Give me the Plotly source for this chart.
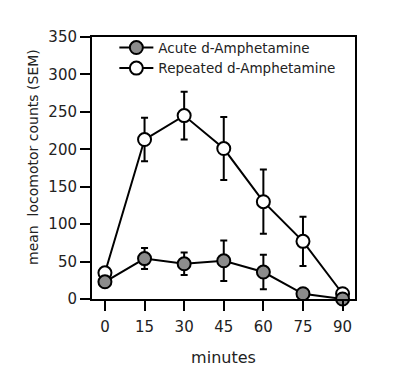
import plotly.graph_objects as go

minutes = [0, 15, 30, 45, 60, 75, 90]
acute_mean = [23, 54, 47, 51, 36, 7, 0]
acute_sem = [0, 14, 15, 27, 23, 0, 0]
repeated_mean = [35, 213, 245, 201, 130, 77, 7]
repeated_sem = [0, 29, 32, 42, 43, 33, 0]
y_ticks = [0, 50, 100, 150, 200, 250, 300, 350]
x_ticks = [0, 15, 30, 45, 60, 75, 90]

FONT = "DejaVu Sans"

fig = go.Figure()
fig.add_trace(go.Scatter(
    x=minutes, y=repeated_mean, name="Repeated d-Amphetamine", mode="lines+markers",
    line=dict(color="black", width=2),
    marker=dict(size=13, color="white", line=dict(color="black", width=2)),
    error_y=dict(type="data", array=repeated_sem, color="black", thickness=2, width=3.5),
    legendrank=2, cliponaxis=False,
))
fig.add_trace(go.Scatter(
    x=minutes, y=acute_mean, name="Acute d-Amphetamine", mode="lines+markers",
    line=dict(color="black", width=2),
    marker=dict(size=13, color="#8c8c8c", line=dict(color="black", width=2)),
    error_y=dict(type="data", array=acute_sem, color="black", thickness=2, width=3.5),
    legendrank=1, cliponaxis=False,
))

fig.update_layout(
    width=394, height=371,
    margin=dict(l=84, r=47, t=29, b=80),
    paper_bgcolor="white", plot_bgcolor="white",
    font=dict(family=FONT, size=13, color="#222"),
    showlegend=True,
    legend=dict(x=0.085, y=1.018, xanchor="left", yanchor="top",
                bgcolor="rgba(0,0,0,0)", font=dict(size=13.5, family=FONT),
                tracegroupgap=0, itemwidth=34),
    xaxis=dict(range=[-4.9, 94.7], tickvals=x_ticks, showgrid=False, zeroline=False,
               showline=True, linecolor="black", linewidth=2, mirror=True,
               ticks="outside", ticklen=10, tickwidth=2, tickcolor="black",
               tickfont=dict(size=15, family=FONT), automargin=False, ticklabelstandoff=3,
               title=dict(text="minutes", font=dict(size=16, family=FONT), standoff=17)),
    yaxis=dict(range=[0, 350], tickvals=y_ticks, showgrid=False, zeroline=False,
               showline=True, linecolor="black", linewidth=2, mirror=True,
               ticks="outside", ticklen=10, tickwidth=2, tickcolor="black",
               tickfont=dict(size=15, family=FONT), automargin=False),
    annotations=[dict(text="mean  locomotor counts (SEM)", textangle=-90,
                      xref="paper", yref="paper", x=(33 - 92) / 263, y=(299 - 157) / 262,
                      xanchor="center", yanchor="middle", showarrow=False,
                      font=dict(size=14, family=FONT, color="#222"))],
)

fig.write_html("out.html")
